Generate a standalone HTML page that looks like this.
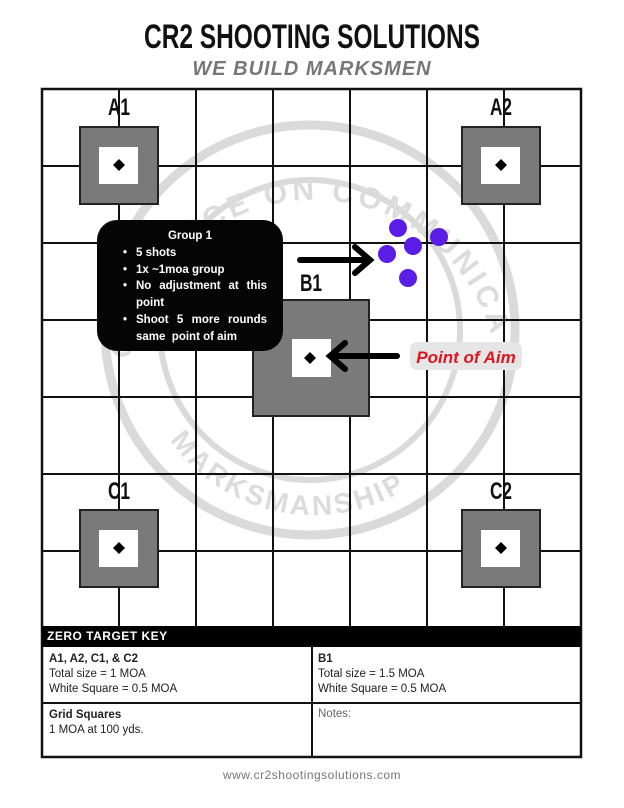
<!DOCTYPE html>
<html><head><style>
body{margin:0;background:#fff;width:624px;height:808px;position:relative;overflow:hidden;font-family:"Liberation Sans",sans-serif}
.a{position:absolute}
.title{left:0;width:624px;top:18px;text-align:center;font-weight:bold;font-size:34px;transform:scaleX(0.72);color:#111;font-family:"Liberation Sans",sans-serif}
.sub{left:0;width:624px;top:58px;text-align:center;font-weight:bold;font-style:italic;font-size:20px;color:#777;letter-spacing:1px}
.lbl{font-weight:bold;font-size:24px;color:#111;transform:scaleX(0.72);width:60px;text-align:center;font-family:"Liberation Sans",sans-serif}
</style></head><body>
<div class="a title">CR2 SHOOTING SOLUTIONS</div>
<div class="a sub">WE BUILD MARKSMEN</div>
<svg class="a" style="left:0;top:0" width="624" height="808">
<g fill="none" stroke="#dadada" stroke-width="9">
<circle cx="310" cy="330" r="205"/>
<circle cx="310" cy="330" r="150" stroke-width="6"/>
</g>
<defs><path id="arcT" d="M130,360 A185,185 0 0 1 490,330"/><path id="arcB" d="M170,440 A175,175 0 0 0 450,450"/></defs>
<text font-family="Liberation Sans" font-weight="bold" font-size="30" fill="#dcdcdc" letter-spacing="4"><textPath href="#arcT">ORDNANCE ON COMMUNICATION</textPath></text>
<text font-family="Liberation Sans" font-weight="bold" font-size="28" fill="#dcdcdc" letter-spacing="3"><textPath href="#arcB">MARKSMANSHIP</textPath></text>
<g stroke="#111" stroke-width="2">
<line x1="119" y1="89" x2="119" y2="627"/><line x1="196" y1="89" x2="196" y2="627"/><line x1="273" y1="89" x2="273" y2="627"/><line x1="350" y1="89" x2="350" y2="627"/><line x1="427" y1="89" x2="427" y2="627"/><line x1="504" y1="89" x2="504" y2="627"/>
<line x1="42" y1="166" x2="581" y2="166"/><line x1="42" y1="243" x2="581" y2="243"/><line x1="42" y1="320" x2="581" y2="320"/><line x1="42" y1="397" x2="581" y2="397"/><line x1="42" y1="474" x2="581" y2="474"/><line x1="42" y1="551" x2="581" y2="551"/>
<rect x="42" y="89" width="539" height="668" fill="none" stroke-width="2.5"/>
</g>
<g stroke="#222" stroke-width="2" fill="#7a7a7a">
<rect x="80" y="127" width="78" height="77"/><rect x="462" y="127" width="78" height="77"/>
<rect x="80" y="510" width="78" height="77"/><rect x="462" y="510" width="78" height="77"/>
<rect x="253" y="300" width="116" height="116"/>
</g>
<g fill="#fff">
<rect x="99" y="147" width="39" height="37"/><rect x="481" y="147" width="39" height="37"/>
<rect x="99" y="530" width="39" height="37"/><rect x="481" y="530" width="39" height="37"/>
<rect x="292" y="339" width="39" height="38"/>
</g>
<g fill="#000">
<path d="M119,159 l6,6 -6,6 -6,-6z"/><path d="M501,159 l6,6 -6,6 -6,-6z"/>
<path d="M119,542 l6,6 -6,6 -6,-6z"/><path d="M501,542 l6,6 -6,6 -6,-6z"/>
<path d="M310,352 l6,6 -6,6 -6,-6z"/>
</g>
<rect x="97" y="220" width="186" height="131" rx="20" fill="#050505"/>
<g stroke="#000" stroke-width="6" fill="none" stroke-linecap="round">
<line x1="300" y1="260" x2="370" y2="260"/><polyline points="355,247 370,260 355,273"/>
<line x1="397" y1="356" x2="330" y2="356"/><polyline points="345,343 330,356 345,369"/>
</g>
<g fill="#5a1ee6">
<circle cx="398" cy="228" r="9"/><circle cx="439" cy="237" r="9"/><circle cx="413" cy="246" r="9"/><circle cx="387" cy="254" r="9"/><circle cx="408" cy="278" r="9"/>
</g>
<rect x="410" y="342" width="112" height="28" rx="7" fill="#e6e6e6"/>
<text x="466" y="363" text-anchor="middle" font-family="Liberation Sans" font-weight="bold" font-style="italic" font-size="17" fill="#e0141e">Point of Aim</text>
<rect x="42" y="626" width="539" height="21" fill="#000"/>
<g stroke="#111" stroke-width="2"><line x1="312" y1="647" x2="312" y2="757"/><line x1="42" y1="703" x2="581" y2="703"/></g>
</svg>
<div class="a" style="left:97px;top:228px;width:186px;color:#fff;font-weight:bold;font-size:11.5px;line-height:16.8px">
<div style="text-align:center">Group 1</div>
<div style="position:relative;padding-left:39px;padding-right:16px;text-align:justify">
<div><span style="position:absolute;left:26px">•</span>5 shots</div>
<div><span style="position:absolute;left:26px">•</span>1x ~1moa group</div>
<div><span style="position:absolute;left:26px">•</span>No&nbsp; adjustment&nbsp; at&nbsp; this point</div>
<div><span style="position:absolute;left:26px">•</span>Shoot&nbsp; 5&nbsp; more&nbsp; rounds same&nbsp; point of aim</div>
</div></div>
<div class="a lbl" style="left:89px;top:94px">A1</div>
<div class="a lbl" style="left:471px;top:94px">A2</div>
<div class="a lbl" style="left:281px;top:270px">B1</div>
<div class="a lbl" style="left:89px;top:478px">C1</div>
<div class="a lbl" style="left:471px;top:478px">C2</div>
<div class="a" style="left:47px;top:629px;color:#fff;font-weight:bold;font-size:12px;letter-spacing:0.5px">ZERO TARGET KEY</div>
<div class="a" style="left:49px;top:652px;font-size:11.5px;line-height:15px;color:#222"><b>A1, A2, C1, &amp; C2</b><br>Total size = 1 MOA<br>White Square = 0.5 MOA</div>
<div class="a" style="left:318px;top:652px;font-size:11.5px;line-height:15px;color:#222"><b>B1</b><br>Total size = 1.5 MOA<br>White Square = 0.5 MOA</div>
<div class="a" style="left:49px;top:708px;font-size:11.5px;line-height:15px;color:#222"><b>Grid Squares</b><br>1 MOA at 100 yds.</div>
<div class="a" style="left:318px;top:708px;font-size:11.5px;color:#666">Notes:</div>
<div class="a" style="left:0;width:624px;top:768px;text-align:center;font-size:12px;color:#777;letter-spacing:0.5px">www.cr2shootingsolutions.com</div>
</body></html>
